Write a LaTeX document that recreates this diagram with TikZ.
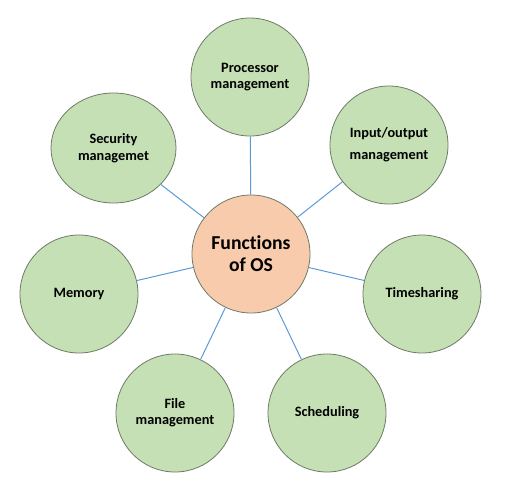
\documentclass[tikz,border=0pt]{standalone}
\usepackage{fontspec}
\setmainfont{Carlito}[Ligatures=NoCommon]
\usetikzlibrary{shapes.geometric}
\definecolor{leafgreen}{HTML}{C5E0B4}
\definecolor{hubpeach}{HTML}{F8CBAD}
\definecolor{linkblue}{HTML}{5B9BD5}
\definecolor{rimgray}{HTML}{6F7A66}
\tikzset{
  leaf/.style={circle, draw=rimgray, line width=0.8pt, fill=leafgreen, minimum size=118pt, inner sep=0pt, align=center, font=\fontsize{14.3}{15.5}\selectfont\bfseries},
  hub/.style={circle, draw=rimgray, line width=0.8pt, fill=hubpeach, minimum size=118pt, inner sep=0pt, align=center, font=\fontsize{19.7}{21.7}\selectfont\bfseries},
  link/.style={draw=linkblue, line width=1pt}
}
\begin{document}
\begin{tikzpicture}[x=1pt, y=-1pt]
\useasboundingbox (0,0) rectangle (509,501);
\node[hub] (c) at (251,254) {Functions\\of OS};
\node[leaf] (proc) at (250,77) {Processor\\management};
\node[leaf, font=\fontsize{14.3}{21.7}\selectfont\bfseries] (io) at (389,145) {Input/output\\management};
\node[leaf] (time) at (422,294) {Timesharing};
\node[leaf] (sched) at (327,413) {Scheduling};
\node[leaf, font=\fontsize{14.3}{16}\selectfont\bfseries] (file) at (175,413) {File\\management};
\node[leaf] (mem) at (79,294) {Memory};
\node[leaf, ellipse, minimum size=0pt, minimum width=125pt, minimum height=110pt, font=\fontsize{14.3}{17}\selectfont\bfseries] (sec) at (113.5,148) {Security\\managemet};
\foreach \n in {proc,io,time,sched,file,mem,sec}
  \draw[link] (c) -- (\n);
\end{tikzpicture}
\end{document}
